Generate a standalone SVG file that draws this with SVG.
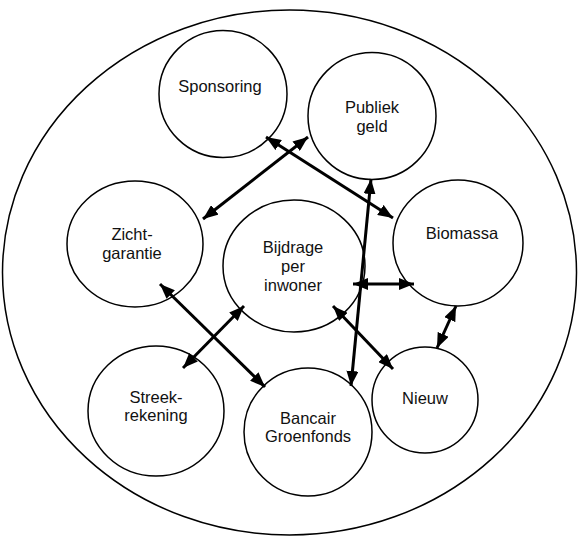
<svg xmlns="http://www.w3.org/2000/svg" width="579" height="537" viewBox="0 0 579 537">
<defs>
<style>
.node{fill:#fff;stroke:#000;stroke-width:1.5}
.lbl{font-family:"Liberation Sans",Arial,sans-serif;font-size:16.5px;fill:#111;text-anchor:middle}
.edge{stroke:#000;stroke-width:3;fill:none;marker-start:url(#ah);marker-end:url(#ah)}
</style>
<marker id="ah" viewBox="0 0 15 12" refX="15" refY="6" markerWidth="15" markerHeight="12" markerUnits="userSpaceOnUse" orient="auto-start-reverse">
<path d="M0,0 L15,6 L0,12 z" fill="#000"/>
</marker>
</defs>
<rect width="579" height="537" fill="#fff"/>
<ellipse id="outer" cx="289.5" cy="272.5" rx="287" ry="262.5" fill="none" stroke="#000" stroke-width="1.5"/>
<g id="n-sponsoring"><ellipse class="node" cx="223" cy="94" rx="64" ry="63.5"/><text class="lbl" x="220" y="92">Sponsoring</text></g>
<g id="n-publiek"><ellipse class="node" cx="372" cy="116" rx="64" ry="63.5"/><text class="lbl" x="372" y="113">Publiek</text><text class="lbl" x="372" y="132">geld</text></g>
<g id="n-zicht"><ellipse class="node" cx="135" cy="244" rx="68" ry="63"/><text class="lbl" x="132" y="240">Zicht-</text><text class="lbl" x="132" y="259">garantie</text></g>
<g id="n-bijdrage"><ellipse class="node" cx="294" cy="266" rx="71" ry="66"/><text class="lbl" x="293" y="253">Bijdrage</text><text class="lbl" x="293" y="272">per</text><text class="lbl" x="293" y="291">inwoner</text></g>
<g id="n-biomassa"><ellipse class="node" cx="458" cy="243" rx="65" ry="63"/><text class="lbl" x="462" y="239">Biomassa</text></g>
<g id="n-nieuw"><ellipse class="node" cx="425" cy="400" rx="53" ry="53"/><text class="lbl" x="425" y="404">Nieuw</text></g>
<g id="n-streek"><ellipse class="node" cx="156" cy="411" rx="68" ry="65"/><text class="lbl" x="156" y="403">Streek-</text><text class="lbl" x="156" y="421">rekening</text></g>
<g id="n-bancair"><ellipse class="node" cx="308" cy="432" rx="64" ry="64"/><text class="lbl" x="308" y="424">Bancair</text><text class="lbl" x="308" y="442">Groenfonds</text></g>
<g id="connectors">
<line class="edge" x1="266" y1="137" x2="393" y2="218"/>
<line class="edge" x1="308" y1="137" x2="203" y2="219"/>
<line class="edge" x1="371" y1="179" x2="351" y2="386"/>
<line class="edge" x1="353" y1="284" x2="414" y2="284"/>
<line class="edge" x1="456" y1="306" x2="437" y2="348"/>
<line class="edge" x1="333" y1="306" x2="393" y2="369"/>
<line class="edge" x1="160" y1="284" x2="265" y2="387"/>
<line class="edge" x1="244" y1="306" x2="183" y2="368"/>
</g>
</svg>
